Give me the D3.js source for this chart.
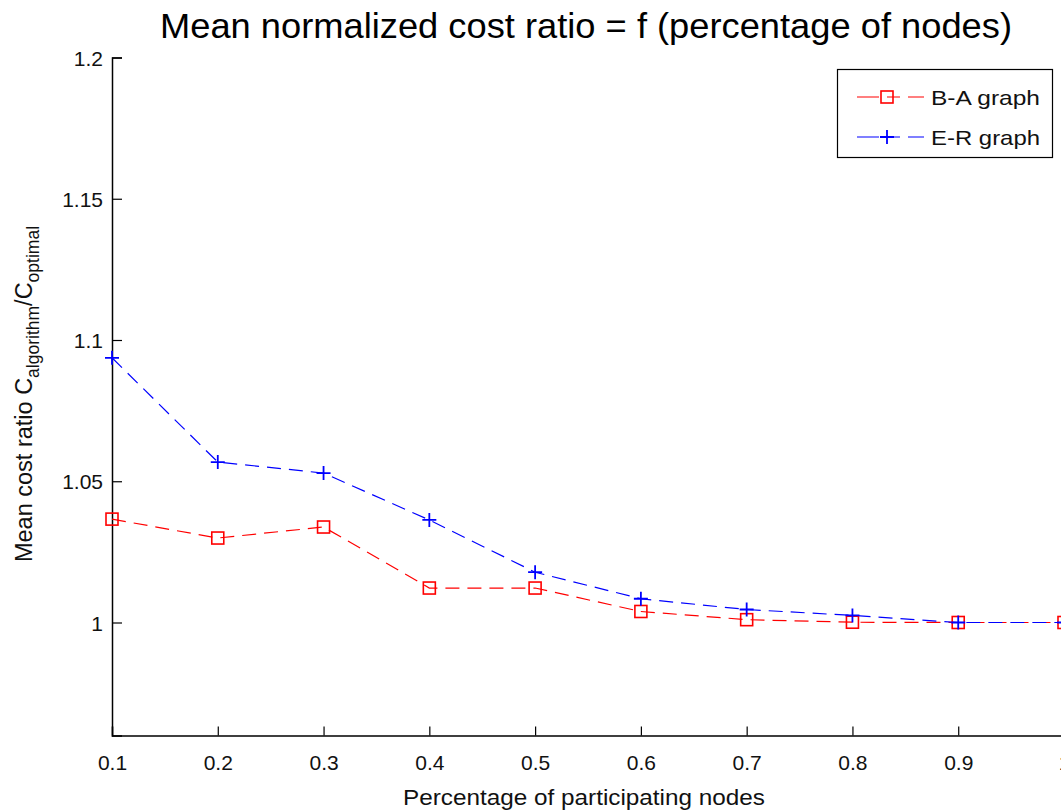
<!DOCTYPE html>
<html><head><meta charset="utf-8">
<script src="https://d3js.org/d3.v7.min.js"></script>
<style>body{margin:0;background:#fff;} svg{display:block;} text{font-family:"Liberation Sans",Arial,sans-serif;}</style>
</head><body>
<svg id="chart" width="1061" height="811"></svg>
<script>
const xValues = [0.1,0.2,0.3,0.4,0.5,0.6,0.7,0.8,0.9,1.0];
const baValues = [1.0366,1.0299,1.0338,1.0122,1.0122,1.0039,1.0010,1.0001,1.0,1.0];
const erValues = [1.0937,1.0568,1.0529,1.0363,1.0178,1.0084,1.0046,1.0025,1.0,1.0];
const xTicks = [0.1,0.2,0.3,0.4,0.5,0.6,0.7,0.8,0.9,1];
const yTicks = [1,1.05,1.1,1.15,1.2];
const seriesNames = ["B-A graph","E-R graph"];

const svg = d3.select("#chart");
const L=112, R=1064, T=57.5, B=735.5;
const x = d3.scaleLinear().domain([0.1,1.0]).range([L,R]);
const y = d3.scaleLinear().domain([0.96,1.2]).range([B,T]);
const txtCol = "#111";

// title
svg.append("text").attr("x",586).attr("y",38).attr("text-anchor","middle")
  .attr("font-size",35).attr("fill","#000")
  .attr("textLength",852).attr("lengthAdjust","spacingAndGlyphs")
  .text("Mean normalized cost ratio = f (percentage of nodes)");

// axes
const yAxis = d3.axisLeft(y).tickValues(yTicks).tickSize(-10).tickPadding(9)
  .tickFormat(d=>d3.format("")(+d.toFixed(2)));
const gy = svg.append("g").attr("transform",`translate(${L},0)`).call(yAxis);
const xAxis = d3.axisBottom(x).tickValues(xTicks).tickSize(-9).tickPadding(20)
  .tickFormat(d=>d3.format("")(+d.toFixed(1)));
const gx = svg.append("g").attr("transform",`translate(0,${B})`).call(xAxis);
[gx,gy].forEach(g=>{
  g.select(".domain").attr("stroke","#000").attr("stroke-width",1.5);
  g.selectAll(".tick line").attr("stroke","#000").attr("stroke-width",1.2);
  g.selectAll(".tick text").attr("font-size",21).attr("fill",txtCol)
   .attr("font-family","'Liberation Sans',Arial,sans-serif");
});
gy.selectAll(".tick text").attr("dy","0.36em");

// axis labels
svg.append("text").attr("x",584).attr("y",805).attr("text-anchor","middle")
  .attr("font-size",22).attr("fill",txtCol)
  .attr("textLength",362).attr("lengthAdjust","spacingAndGlyphs")
  .text("Percentage of participating nodes");
const yl = svg.append("text").attr("transform","translate(32,394) rotate(-90)")
  .attr("text-anchor","middle").attr("font-size",23.5).attr("fill",txtCol);
yl.append("tspan").text("Mean cost ratio C");
yl.append("tspan").attr("font-size",17.5).attr("dy",7).text("algorithm");
yl.append("tspan").attr("dy",-7).text("/C");
yl.append("tspan").attr("font-size",17.5).attr("dy",7).text("optimal");

const line = d3.line().x((d,i)=>x(xValues[i])).y(d=>y(d));
const dash = "14,8";

function squareAt(g,cx,cy,c){
  g.append("rect").attr("x",cx-6).attr("y",cy-6).attr("width",12).attr("height",12)
   .attr("fill","none").attr("stroke",c).attr("stroke-width",1.6);
}
function plusAt(g,cx,cy,c){
  g.append("path").attr("d",`M${cx-7},${cy}H${cx+7}M${cx},${cy-7}V${cy+7}`)
   .attr("stroke",c).attr("stroke-width",1.8).attr("fill","none");
}

const gp = svg.append("g");
gp.append("path").datum(baValues).attr("d",line).attr("fill","none")
  .attr("stroke","#ff0000").attr("stroke-width",1.2).attr("stroke-dasharray",dash);
gp.append("path").datum(erValues).attr("d",line).attr("fill","none")
  .attr("stroke","#0000ff").attr("stroke-width",1.2).attr("stroke-dasharray",dash);
baValues.forEach((v,i)=>squareAt(gp,x(xValues[i]),y(v),"#ff0000"));
erValues.forEach((v,i)=>plusAt(gp,x(xValues[i]),y(v),"#0000ff"));

// legend
const lg = svg.append("g");
lg.append("rect").attr("x",837.5).attr("y",69.5).attr("width",215).attr("height",88)
  .attr("fill","#fff").attr("stroke","#000").attr("stroke-width",1.2);
const lc = ["#ff0000","#0000ff"];
[97,137].forEach((ly,i)=>{
  lg.append("line").attr("x1",857).attr("x2",924).attr("y1",ly).attr("y2",ly)
    .attr("stroke",lc[i]).attr("stroke-width",1.2).attr("stroke-dasharray","22,8,13,8");
  if(i===0) squareAt(lg,887,ly,lc[i]); else plusAt(lg,887,ly,lc[i]);
  lg.append("text").attr("x",931).attr("y",ly+8).attr("font-size",21).attr("fill",txtCol)
    .attr("textLength",109).attr("lengthAdjust","spacingAndGlyphs")
    .text(seriesNames[i]);
});
</script>
</body></html>
